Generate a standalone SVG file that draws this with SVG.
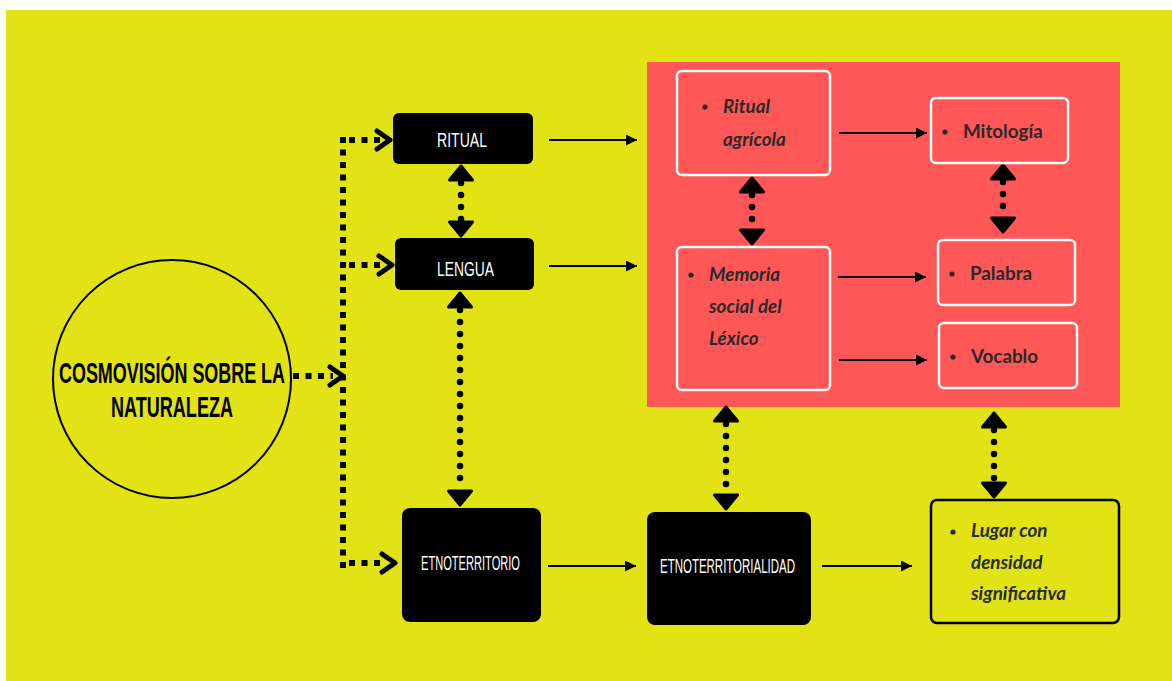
<svg xmlns="http://www.w3.org/2000/svg" width="1172" height="681" viewBox="0 0 1172 681">
<defs>
<style>
.bg{fill:#e1e314}
.blk{fill:#000}
.wbox{fill:none;stroke:#fff;stroke-width:2.5}
.cond{font-family:"Liberation Sans",Arial,sans-serif;fill:#fff;font-size:21px}
.lato{font-family:Lato,"Liberation Sans",sans-serif;font-weight:bold;fill:#2a2a2a;font-size:18.8px}
.it{font-style:italic}
.sq{fill:none;stroke:#000;stroke-width:6;stroke-dasharray:6 6.5}
.chev{fill:none;stroke:#000;stroke-width:5;stroke-linecap:round;stroke-linejoin:round}
.sol{fill:none;stroke:#000;stroke-width:2}
.dots{fill:none;stroke:#000;stroke-width:6.5;stroke-linecap:round;stroke-dasharray:0 12}
.hd{fill:#000;stroke:#000;stroke-width:3;stroke-linejoin:round}
.bul{fill:#2a2a2a}
</style>
<marker id="ar" markerUnits="userSpaceOnUse" markerWidth="11" markerHeight="11" viewBox="0 0 11 11" refX="11" refY="5.5" orient="auto"><path d="M0,0 L11,5.5 L0,11 Z" fill="#000"/></marker>
<path id="hd" d="M0,0 L11.5,14 L-11.5,14 Z"/>
</defs>
<rect x="0" y="0" width="1172" height="681" fill="#fff"/>
<rect class="bg" x="6" y="10" width="1166" height="671"/>
<rect x="647" y="62" width="473" height="345" fill="#ff5757"/>

<g id="connectors">
<path class="sq" d="M343,137 V569"/>
<path class="sq" d="M349,140 H380"/>
<path class="sq" d="M349,265 H382"/>
<path class="sq" d="M293,376 H333"/>
<path class="sq" d="M349,563 H385"/>
<polyline class="chev" points="377,131 390,140 377,149"/>
<polyline class="chev" points="379,256 392,265 379,274"/>
<polyline class="chev" points="330,367 343,376 330,385"/>
<polyline class="chev" points="382,554 395,563 382,572"/>

<path class="sol" marker-end="url(#ar)" d="M549,140 H637"/>
<path class="sol" marker-end="url(#ar)" d="M549,266 H637"/>
<path class="sol" marker-end="url(#ar)" d="M548,566 H636"/>
<path class="sol" marker-end="url(#ar)" d="M822,566 H912"/>
<path class="sol" marker-end="url(#ar)" d="M839,133 H927"/>
<path class="sol" marker-end="url(#ar)" d="M838,277 H926"/>
<path class="sol" marker-end="url(#ar)" d="M839,360 H927"/>

<path class="dots" d="M461,183 V222"/>
<use href="#hd" class="hd" transform="translate(461,166)"/>
<use href="#hd" class="hd" transform="translate(461,236) scale(1,-1)"/>
<path class="dots" d="M460,310 V490"/>
<use href="#hd" class="hd" transform="translate(460,293)"/>
<use href="#hd" class="hd" transform="translate(460,505) scale(1,-1)"/>
<path class="dots" d="M752,195 V231"/>
<use href="#hd" class="hd" transform="translate(752,178)"/>
<use href="#hd" class="hd" transform="translate(752,244) scale(1,-1)"/>
<path class="dots" d="M1003,182 V218"/>
<use href="#hd" class="hd" transform="translate(1003,165)"/>
<use href="#hd" class="hd" transform="translate(1003,232) scale(1,-1)"/>
<path class="dots" d="M726,424 V496"/>
<use href="#hd" class="hd" transform="translate(726,407)"/>
<use href="#hd" class="hd" transform="translate(726,509) scale(1,-1)"/>
<path class="dots" d="M994,430 V484"/>
<use href="#hd" class="hd" transform="translate(994,413)"/>
<use href="#hd" class="hd" transform="translate(994,497) scale(1,-1)"/>
</g>

<g id="cosmovision">
<circle cx="172" cy="379" r="119" fill="none" stroke="#000" stroke-width="2"/>
<text x="172" y="383" text-anchor="middle" font-family="Liberation Sans,Arial,sans-serif" font-weight="bold" font-size="30" textLength="226" lengthAdjust="spacingAndGlyphs">COSMOVISIÓN SOBRE LA</text>
<text x="172" y="417" text-anchor="middle" font-family="Liberation Sans,Arial,sans-serif" font-weight="bold" font-size="30" textLength="122" lengthAdjust="spacingAndGlyphs">NATURALEZA</text>
</g>

<g id="ritual">
<rect class="blk" x="393" y="113" width="140" height="51" rx="6"/>
<text class="cond" x="462" y="147" text-anchor="middle" font-size="22" textLength="50" lengthAdjust="spacingAndGlyphs">RITUAL</text>
</g>
<g id="lengua">
<rect class="blk" x="395" y="238" width="139" height="52" rx="6"/>
<text class="cond" x="465.5" y="276" text-anchor="middle" font-size="22" textLength="57" lengthAdjust="spacingAndGlyphs">LENGUA</text>
</g>
<g id="etnoterritorio">
<rect class="blk" x="402" y="508" width="139" height="114" rx="8"/>
<text class="cond" x="470.5" y="570" text-anchor="middle" font-size="19" textLength="99" lengthAdjust="spacingAndGlyphs">ETNOTERRITORIO</text>
</g>
<g id="etnoterritorialidad">
<rect class="blk" x="647" y="512" width="164" height="113" rx="8"/>
<text class="cond" x="727.5" y="573" text-anchor="middle" font-size="19" textLength="135" lengthAdjust="spacingAndGlyphs">ETNOTERRITORIALIDAD</text>
</g>

<g id="ritual-agricola">
<rect class="wbox" x="677" y="71" width="153" height="104" rx="5"/>
<circle class="bul" cx="705" cy="107" r="2.6"/>
<text class="lato it" x="723" y="113">Ritual</text>
<text class="lato it" x="723" y="146">agrícola</text>
</g>
<g id="mitologia">
<rect class="wbox" x="931" y="98" width="137" height="65" rx="5"/>
<circle class="bul" cx="945" cy="132" r="2.6"/>
<text class="lato" x="963" y="138">Mitología</text>
</g>
<g id="memoria">
<rect class="wbox" x="677" y="247" width="153" height="143" rx="5"/>
<circle class="bul" cx="691" cy="275" r="2.6"/>
<text class="lato it" x="709" y="281">Memoria</text>
<text class="lato it" x="709" y="313">social del</text>
<text class="lato it" x="709" y="345">Léxico</text>
</g>
<g id="palabra">
<rect class="wbox" x="938" y="240" width="137" height="65" rx="5"/>
<circle class="bul" cx="952" cy="274" r="2.6"/>
<text class="lato" x="970" y="280">Palabra</text>
</g>
<g id="vocablo">
<rect class="wbox" x="939" y="323" width="138" height="65" rx="5"/>
<circle class="bul" cx="953" cy="357" r="2.6"/>
<text class="lato" x="971" y="363">Vocablo</text>
</g>
<g id="lugar">
<rect x="931" y="500" width="188" height="123" rx="6" fill="none" stroke="#000" stroke-width="2.5"/>
<circle class="bul" cx="953" cy="532" r="2.6"/>
<text class="lato it" x="971" y="537">Lugar con</text>
<text class="lato it" x="971" y="569">densidad</text>
<text class="lato it" x="971" y="600">significativa</text>
</g>
</svg>
